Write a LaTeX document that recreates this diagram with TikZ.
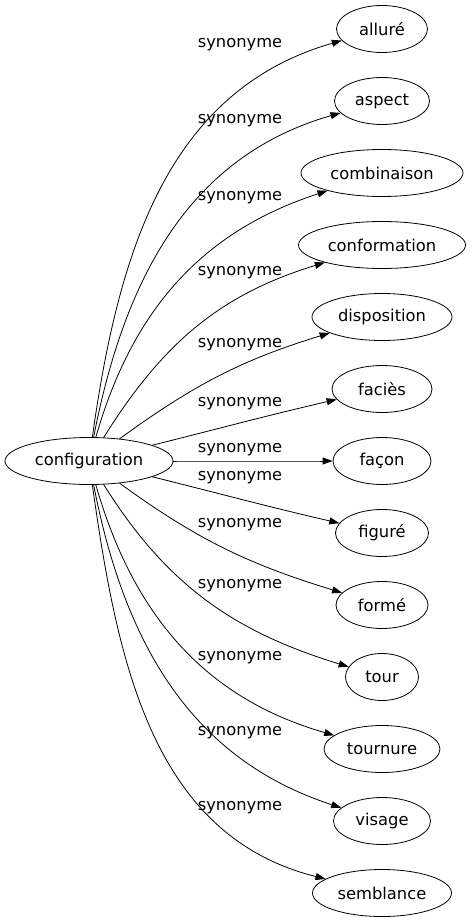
\documentclass[tikz,border=0pt]{standalone}
\usepackage{fontspec}
\setmainfont{DejaVu Sans}
\usetikzlibrary{arrows.meta,shapes.geometric}
\tikzset{
  every picture/.style={line join=round, line cap=round, >={Stealth[length=10pt,width=7pt,inset=0pt]}},
  word/.style={draw, ellipse, line width=0.8pt, inner xsep=0pt, inner ysep=2pt, minimum height=47pt, font=\fontsize{16.3}{19}\selectfont},
  rel/.style={inner sep=0pt, font=\fontsize{16.3}{19}\selectfont},
  syn/.style={->, line width=0.8pt},
}
\begin{document}
\begin{tikzpicture}[x=1pt,y=1pt]
\useasboundingbox (0,0) rectangle (472,-923);
\node[word,minimum width=168pt] (conf) at (89,-461) {configuration};
\foreach \n/\t/\w/\k/\ly/\o/\i in {
  allure/alluré/91/0/45/82/196,
  aspect/aspect/95/1/121/79/196,
  combinaison/combinaison/162/2/198/74/198,
  conformation/conformation/167/3/273/58/197,
  disposition/disposition/140/4/345/36/197,
  facies/faciès/100/5/404/14/193,
  facon/façon/98/6/450/0/180,
  figure/figuré/93/7/478/-14/167,
  forme/formé/92/8/525/-36/163,
  tour/tour/73/9/586/-58/163,
  tournure/tournure/116/10/658/-74/164,
  visage/visage/97/11/733/-79/162,
  semblance/semblance/139/12/808/-82/166}{
  \node[word,minimum width=\w pt] (\n) at (382,{-29-72*\k}) {\t};
  \draw[syn] (conf) to[out=\o,in=\i] (\n);
  \node[rel] (l-\n) at (240,-\ly) {synonyme};
}
\end{tikzpicture}
\end{document}
